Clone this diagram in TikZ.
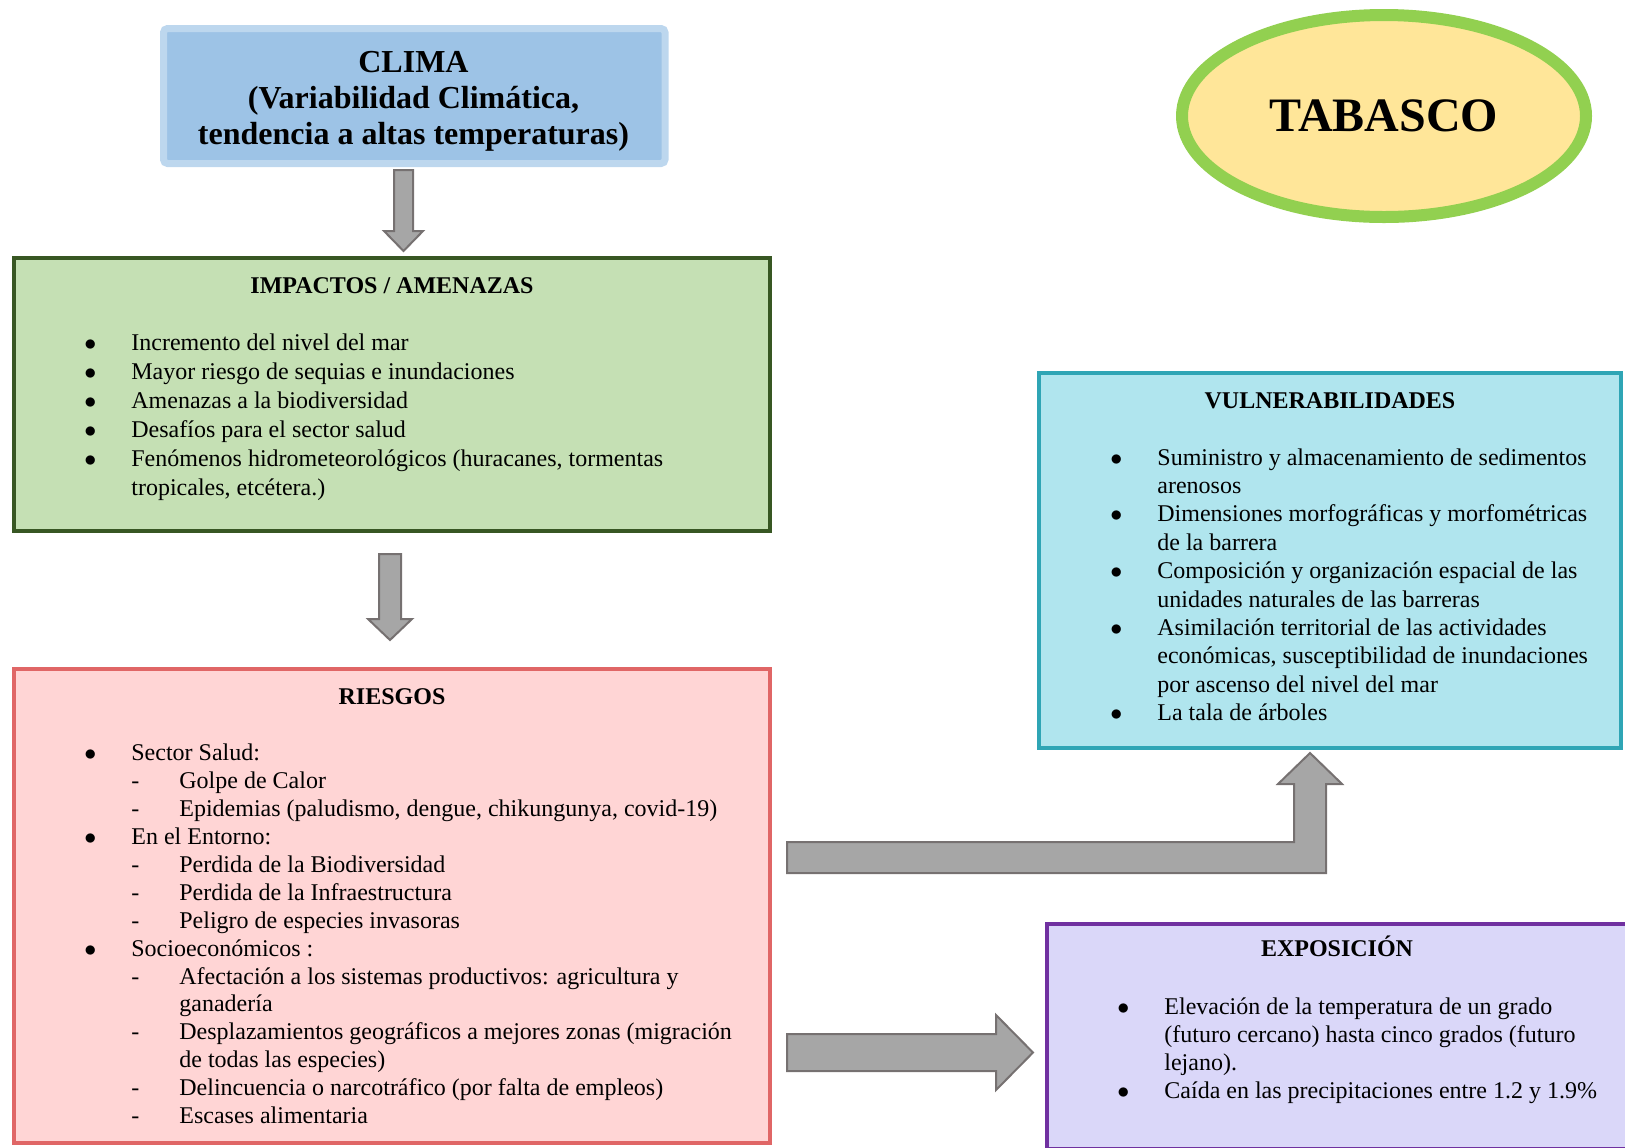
\documentclass[tikz,border=0pt]{standalone}
\usepackage{fontspec}
\setmainfont{Liberation Serif}
\usepackage{array}
\usetikzlibrary{shapes.geometric}
\definecolor{climafill}{HTML}{9DC3E6}
\definecolor{climaline}{HTML}{BDD7EE}
\definecolor{impfill}{HTML}{C5E0B4}
\definecolor{impline}{HTML}{385723}
\definecolor{riefill}{HTML}{FFD5D5}
\definecolor{rieline}{HTML}{E06666}
\definecolor{vulfill}{HTML}{B0E5EE}
\definecolor{vulline}{HTML}{2FA5B5}
\definecolor{expfill}{HTML}{DAD7F9}
\definecolor{expline}{HTML}{7030A0}
\definecolor{tabfill}{HTML}{FFE699}
\definecolor{tabline}{HTML}{92D050}
\definecolor{arrfill}{HTML}{A6A6A6}
\definecolor{arrline}{HTML}{767171}
\tikzstyle{box}=[draw,rectangle,line width=2pt,inner sep=0pt]
\tikzstyle{heading}=[font=\fontsize{12}{14}\selectfont\bfseries,anchor=base,inner sep=0pt]
\tikzstyle{listtext}=[anchor=base west,inner sep=0pt]
\tikzstyle{blockarrow}=[draw=arrline,fill=arrfill,line width=1pt,line join=miter]
\newcommand{\bul}{$\bullet$}

\begin{document}
\begin{tikzpicture}[x=0.5pt,y=-0.5pt]
    \useasboundingbox (0,0) rectangle (1625,1147);
    \clip (0,0) rectangle (1625,1147);
    % First we draw the boxes
    \node[box,draw=climaline,fill=climafill,line width=3.5pt,rounded corners=2pt,
          minimum width=250.75pt,minimum height=67.5pt] (clima) at (414.25,96) {};
    \node[box,draw=impline,fill=impfill,minimum width=378pt,minimum height=136.5pt] (impactos) at (392,394.5) {};
    \node[box,draw=rieline,fill=riefill,minimum width=378pt,minimum height=237pt] (riesgos) at (392,906) {};
    \node[box,draw=vulline,fill=vulfill,minimum width=291pt,minimum height=187.5pt] (vulnerab) at (1330,560.5) {};
    \node[box,draw=expline,fill=expfill,minimum width=291.5pt,minimum height=112.5pt] (exposic) at (1338.5,1036.5) {};
    \node[ellipse,draw=tabline,fill=tabfill,line width=6pt,minimum width=202pt,minimum height=101pt,
          font=\fontsize{24}{28}\selectfont\bfseries] (tabasco) at (1384,116) {TABASCO};

    % Titles
    \node[align=center,inner sep=0pt,font=\fontsize{16}{18}\selectfont\bfseries] (climatxt) at (413.5,101.5)
        {CLIMA\\(Variabilidad Climática,\\tendencia a altas temperaturas)};
    \foreach \pos/\name/\txt in {{(392,293)/imphead/{IMPACTOS / AMENAZAS}}, {(392,704)/riehead/RIESGOS},
                               {(1330,408)/vulhead/VULNERABILIDADES}, {(1337,956)/exphead/EXPOSICIÓN}}
        \node[heading] (\name) at \pos {\txt};

    % The lists
    \node[listtext,font=\fontsize{12}{14.5}\selectfont] (implist) at (84,350) {%
        \begin{tabular}[t]{@{}p{23.5pt}@{}l@{}}
        \bul & Incremento del nivel del mar\\
        \bul & Mayor riesgo de sequias e inundaciones\\
        \bul & Amenazas a la biodiversidad\\
        \bul & Desafíos para el sector salud\\
        \bul & Fenómenos hidrometeorológicos (huracanes, tormentas\\
             & tropicales, etcétera.)
        \end{tabular}};
    \node[listtext,font=\fontsize{12}{13.97}\selectfont] (rielist) at (84,760.5) {%
        \begin{tabular}[t]{@{}p{23.5pt}@{}p{24pt}@{}l@{}}
        \bul & \multicolumn{2}{@{}l@{}}{Sector Salud:}\\
             & - & Golpe de Calor\\
             & - & Epidemias (paludismo, dengue, chikungunya, covid-19)\\
        \bul & \multicolumn{2}{@{}l@{}}{En el Entorno:}\\
             & - & Perdida de la Biodiversidad\\
             & - & Perdida de la Infraestructura\\
             & - & Peligro de especies invasoras\\
        \bul & \multicolumn{2}{@{}l@{}}{Socioeconómicos :}\\
             & - & Afectación a los sistemas productivos: agricultura y\\
             &   & ganadería\\
             & - & Desplazamientos geográficos a mejores zonas (migración\\
             &   & de todas las especies)\\
             & - & Delincuencia o narcotráfico (por falta de empleos)\\
             & - & Escases alimentaria
        \end{tabular}};
    \node[listtext,font=\fontsize{12}{14.2}\selectfont] (vullist) at (1110,465) {%
        \begin{tabular}[t]{@{}p{23.5pt}@{}l@{}}
        \bul & Suministro y almacenamiento de sedimentos\\
             & arenosos\\
        \bul & Dimensiones morfográficas y morfométricas\\
             & de la barrera\\
        \bul & Composición y organización espacial de las\\
             & unidades naturales de las barreras\\
        \bul & Asimilación territorial de las actividades\\
             & económicas, susceptibilidad de inundaciones\\
             & por ascenso del nivel del mar\\
        \bul & La tala de árboles
        \end{tabular}};
    \node[listtext,font=\fontsize{12}{14}\selectfont] (explist) at (1117,1014) {%
        \begin{tabular}[t]{@{}p{23.5pt}@{}l@{}}
        \bul & Elevación de la temperatura de un grado\\
             & (futuro cercano) hasta cinco grados (futuro\\
             & lejano).\\
        \bul & Caída en las precipitaciones entre 1.2 y 1.9\%
        \end{tabular}};

    % Block arrows between the boxes
    \coordinate (a1tail) at (403.5,170);  \coordinate (a1tip) at (403.5,251);
    \coordinate (a2tail) at (390,554);    \coordinate (a2tip) at (390,640);
    \coordinate (a3tail) at (787,1052.5); \coordinate (a3tip) at (1033,1052.5);
    \coordinate (a4tail) at (787,857.5);  \coordinate (a4tip) at (1310,753);
    \draw[blockarrow] (a1tail) ++(-9.5,0) -- ++(19,0) -- ++(0,61) -- ++(10,0) -- (a1tip)
        -- ++(-19.5,-20) -- ++(10,0) -- cycle;
    \draw[blockarrow] (a2tail) ++(-11,0) -- ++(22,0) -- ++(0,65) -- ++(11,0) -- (a2tip)
        -- ++(-22,-21) -- ++(11,0) -- cycle;
    \draw[blockarrow] (a3tail) ++(0,-18.5) -- ++(209,0) -- ++(0,-19) -- (a3tip)
        -- ++(-37,37.5) -- ++(0,-19) -- ++(-209,0) -- cycle;
    \draw[blockarrow] (a4tail) ++(0,-15.5) -- ++(507,0) -- ++(0,-58) -- ++(-16,0) -- (a4tip)
        -- ++(32,31) -- ++(-16,0) -- ++(0,89) -- ++(-539,0) -- cycle;
\end{tikzpicture}
\end{document}
